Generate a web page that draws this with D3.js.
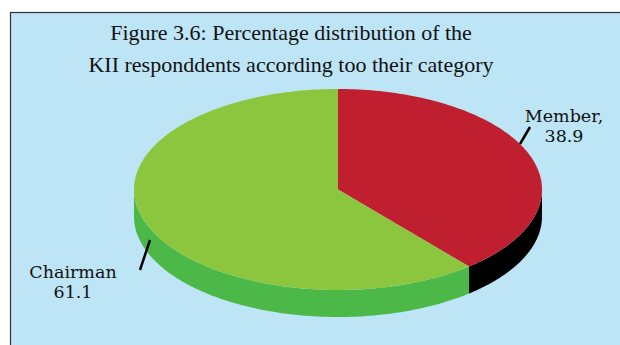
<!DOCTYPE html>
<html>
<head>
<meta charset="utf-8">
<script src="https://cdn.jsdelivr.net/npm/d3@7"></script>
<style>
  html, body { margin: 0; padding: 0; background: #ffffff; }
  svg { display: block; }
</style>
</head>
<body>
<script>
// Respondent categories and their shares (%)
const categories = ["Member", "Chairman"];
const shares = [38.9, 61.1];
const labelTexts = [["Member,", "38.9"], ["Chairman", "61.1"]];
const titleLines = [
  "Figure 3.6: Percentage distribution of the",
  "KII responddents according too their category"
];

const W = 620, H = 345;
const topColors = ["#c01f2f", "#8cc63f"];
const sideColors = ["#000000", "#4cb848"];

const svg = d3.select("body").append("svg")
  .attr("width", W).attr("height", H);

// chart frame
svg.append("rect")
  .attr("x", 10.5).attr("y", 12.5)
  .attr("width", W + 10).attr("height", H)
  .attr("fill", "#bde5f5")
  .attr("stroke", "#333").attr("stroke-width", 1.2);

// title
const title = svg.append("text")
  .attr("text-anchor", "middle")
  .attr("font-family", "'Liberation Serif', 'Times New Roman', serif")
  .attr("font-size", 22)
  .attr("fill", "#111");
titleLines.forEach((t, i) => {
  title.append("tspan").attr("x", 291).attr("y", 40 + i * 32).text(t);
});

// 3D pie geometry
const cx = 338, cy = 189.5, rx = 204, ry = 100.5, depth = 27;
const pie = d3.pie().sort(null).startAngle(0).endAngle(2 * Math.PI);
const arcs = pie(shares);

// angle measured clockwise from 12 o'clock
const px = a => cx + rx * Math.sin(a);
const py = a => cy - ry * Math.cos(a);

function topPath(d) {
  const n = 120;
  const pts = [[cx, cy]];
  for (let i = 0; i <= n; i++) {
    const a = d.startAngle + (d.endAngle - d.startAngle) * i / n;
    pts.push([px(a), py(a)]);
  }
  return d3.line()(pts) + "Z";
}

function sidePath(d) {
  const a0 = Math.max(d.startAngle, Math.PI / 2);
  const a1 = Math.min(d.endAngle, 3 * Math.PI / 2);
  if (a1 <= a0) return null;
  const n = 100;
  const upper = [], lower = [];
  for (let i = 0; i <= n; i++) {
    const a = a0 + (a1 - a0) * i / n;
    upper.push([px(a), py(a)]);
    lower.push([px(a), py(a) + depth]);
  }
  return d3.line()(upper.concat(lower.reverse())) + "Z";
}

const g = svg.append("g");
arcs.forEach((d, i) => {
  const p = sidePath(d);
  if (p) g.append("path").attr("d", p).attr("fill", sideColors[i]);
});
arcs.forEach((d, i) => {
  g.append("path").attr("d", topPath(d)).attr("fill", topColors[i]);
});

// labels with short leader lines
const labelLayout = [
  { lead: [[520, 144], [530, 127]], x: 564, y: 122 },
  { lead: [[150, 240], [140, 270]], x: 73, y: 278 }
];
const labelFont = "'DejaVu Serif', serif";
arcs.forEach((d, i) => {
  const L = labelLayout[i];
  svg.append("path")
    .attr("d", d3.line()(L.lead))
    .attr("stroke", "#000").attr("stroke-width", 2.5).attr("fill", "none");
  const t = svg.append("text")
    .attr("text-anchor", "middle")
    .attr("font-family", labelFont)
    .attr("font-size", 17.5)
    .attr("fill", "#111");
  labelTexts[i].forEach((s, j) => {
    t.append("tspan").attr("x", L.x).attr("y", L.y + j * 20).text(s);
  });
});
</script>
</body>
</html>
